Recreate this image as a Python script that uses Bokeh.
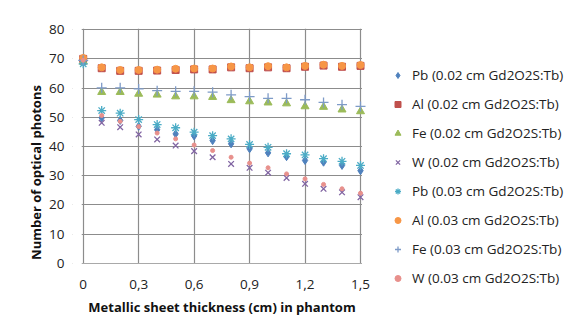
from bokeh.plotting import figure
from bokeh.models import Legend, LegendItem, FixedTicker, BoxAnnotation
from bokeh.embed import file_html
from bokeh.resources import INLINE

thickness = [0.0, 0.1, 0.2, 0.3, 0.4, 0.5, 0.6, 0.7, 0.8, 0.9, 1.0, 1.1, 1.2, 1.3, 1.4, 1.5]

pb_002 = [69.0, 49.8, 48.9, 46.9, 45.7, 44.3, 43.6, 42.0, 40.9, 39.2, 37.8, 36.5, 35.2, 34.6, 33.5, 31.7]
al_002 = [70.0, 66.8, 65.9, 65.9, 66.0, 66.2, 66.4, 66.4, 67.1, 66.8, 67.1, 66.8, 67.3, 67.7, 67.3, 67.6]
fe_002 = [69.0, 58.6, 58.6, 58.0, 57.7, 57.1, 57.1, 56.9, 55.8, 55.4, 55.0, 54.7, 53.7, 53.5, 52.6, 52.0]
w_002 = [69.0, 48.1, 46.6, 44.1, 42.4, 40.3, 38.4, 36.3, 34.0, 32.7, 31.0, 29.2, 27.2, 25.5, 24.3, 22.6]
pb_003 = [68.3, 52.3, 51.4, 49.2, 47.5, 46.4, 44.9, 43.7, 42.6, 40.7, 39.7, 37.5, 37.1, 35.8, 34.9, 33.5]
al_003 = [70.3, 67.1, 66.2, 66.2, 66.3, 66.6, 66.7, 66.7, 67.4, 67.1, 67.5, 67.1, 67.6, 68.0, 67.6, 67.9]
fe_003 = [69.5, 60.1, 60.1, 59.7, 59.1, 58.9, 58.9, 58.6, 57.7, 57.1, 56.5, 56.5, 56.0, 55.1, 54.3, 53.7]
w_003 = [69.5, 50.6, 48.6, 46.8, 44.6, 42.6, 40.5, 38.6, 36.3, 34.3, 32.7, 30.6, 28.9, 27.0, 25.5, 24.0]

series_labels = [
    "Pb (0.02 cm Gd2O2S:Tb)", "Al (0.02 cm Gd2O2S:Tb)", "Fe (0.02 cm Gd2O2S:Tb)", "W (0.02 cm Gd2O2S:Tb)",
    "Pb (0.03 cm Gd2O2S:Tb)", "Al (0.03 cm Gd2O2S:Tb)", "Fe (0.03 cm Gd2O2S:Tb)", "W (0.03 cm Gd2O2S:Tb)",
]
x_ticks = [0, 0.3, 0.6, 0.9, 1.2, 1.5]
x_tick_labels = ["0", "0,3", "0,6", "0,9", "1,2", "1,5"]
y_ticks = [0, 10, 20, 30, 40, 50, 60, 70, 80]

FONT = "Open Sans"
GRID = "#8c8c8c"

styles = [
    dict(marker="diamond", size=8, fill_color="#4F81BD", line_color="#4F81BD", line_width=1),
    dict(marker="square", size=7, fill_color="#C0504D", line_color="#C0504D", line_width=1),
    dict(marker="triangle", size=8, fill_color="#9BBB59", line_color="#9BBB59", line_width=1),
    dict(marker="x", size=8, fill_color=None, line_color="#8064A2", line_width=1.3),
    dict(marker="asterisk", size=9, fill_color=None, line_color="#4BACC6", line_width=1.3),
    dict(marker="circle", size=7, fill_color="#F79646", line_color="#F79646", line_width=1),
    dict(marker="cross", size=10, fill_color=None, line_color="#7E9BC8", line_width=1.3),
    dict(marker="circle", size=4, fill_color="#E8908C", line_color="#E8908C", line_width=1),
]
series = [pb_002, al_002, fe_002, w_002, pb_003, al_003, fe_003, w_003]

# The frame is widened (left, right, down) so the legend and the x axis texts
# sit inside it (anything outside the frame is clipped by the SVG backend).
p = figure(width=570, height=316, output_backend="svg", toolbar_location=None,
           x_range=(-0.0579, 2.6359), y_range=(-18.26, 80.41),
           min_border_left=72, min_border_top=28, min_border_right=0, min_border_bottom=0)
p.outline_line_color = None

for g in (p.xgrid[0], p.ygrid[0]):
    g.grid_line_color = GRID
    g.grid_line_width = 1.2
p.xgrid.ticker = FixedTicker(ticks=x_ticks)
p.ygrid.ticker = FixedTicker(ticks=y_ticks)

# mask the grid outside the data area (0..1.5 x 0..80)
for box in (dict(left=1.508), dict(top=-0.15), dict(right=-0.008)):
    p.add_layout(BoxAnnotation(fill_color="white", fill_alpha=1, line_color=None, level="underlay", **box))

p.xaxis.ticker = FixedTicker(ticks=x_ticks)
p.xaxis.major_label_overrides = {t: l for t, l in zip(x_ticks, x_tick_labels)}
p.xaxis.fixed_location = 0
p.xaxis.bounds = (0, 1.5)
p.yaxis.ticker = FixedTicker(ticks=y_ticks)
p.yaxis.bounds = (0, 80)
for ax in (p.xaxis[0], p.yaxis[0]):
    ax.axis_line_color = None
    ax.major_tick_line_color = None
    ax.minor_tick_line_color = None
    ax.major_label_text_font = FONT
    ax.major_label_text_font_size = "13.5px"
    ax.major_label_text_color = "#222222"
    ax.axis_label_text_font = FONT
    ax.axis_label_text_font_style = "bold"
    ax.axis_label_text_font_size = "13px"
    ax.axis_label_text_color = "#111111"
p.xaxis.major_label_standoff = 11
p.yaxis.major_label_standoff = 2
p.xaxis.axis_label = "Metallic sheet thickness (cm) in phantom"
p.yaxis.axis_label = "Number of optical photons"
p.xaxis.axis_label_standoff = 5
p.yaxis.axis_label_standoff = 1

renderers = [p.scatter(thickness, vals, **st) for vals, st in zip(series, styles)]

legend = Legend(items=[LegendItem(label=l, renderers=[r]) for l, r in zip(series_labels, renderers)],
                location=(318, 24), orientation="vertical",
                glyph_width=15, glyph_height=16, label_height=29, spacing=0,
                padding=0, margin=0, label_standoff=7,
                label_text_font=FONT, label_text_font_size="13.5px", label_text_color="#222222",
                border_line_color=None, background_fill_alpha=0)
p.add_layout(legend, "center")

open("out.html", "w").write(file_html(p, INLINE))
